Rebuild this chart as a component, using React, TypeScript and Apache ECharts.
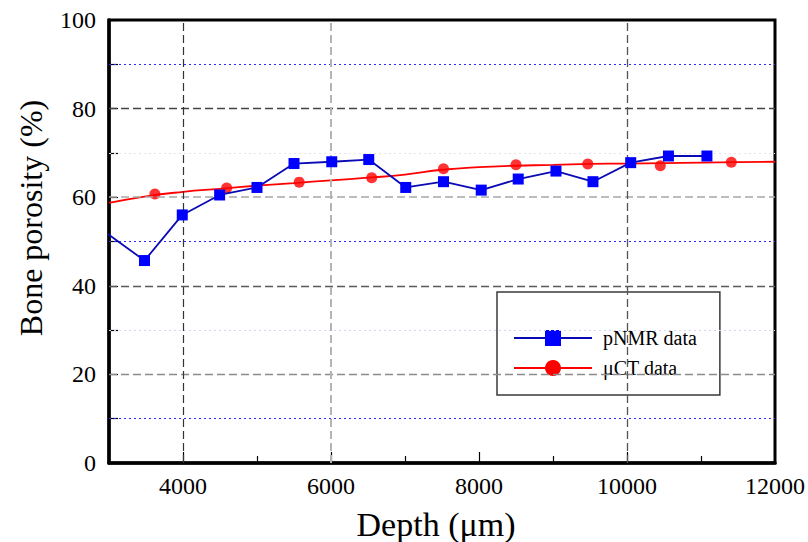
import React, { useEffect, useRef } from "react";
import * as echarts from "echarts";

const depthNMR = [2500, 3480, 3990, 4495, 5000, 5500, 6010, 6510, 7010, 7520, 8030, 8530, 9040, 9540, 10050, 10560, 11080];
const porosityNMR = [57.5, 45.7, 56.0, 60.5, 62.2, 67.6, 68.0, 68.5, 62.2, 63.5, 61.6, 64.1, 65.9, 63.5, 67.8, 69.3, 69.3];

const depthCT = [3620, 4590, 5570, 6550, 7520, 8500, 9470, 10450, 11410];
const porosityCT = [60.7, 62.1, 63.4, 64.4, 66.4, 67.3, 67.5, 67.1, 67.9];

const depthFit = [3000, 3500, 4000, 4500, 5000, 5500, 6000, 6500, 7000, 7500, 8000, 8500, 9000, 9500, 10000, 10500, 11000, 11500, 12000];
const porosityFit = [58.7, 60.2, 61.2, 61.9, 62.6, 63.2, 63.8, 64.4, 65.1, 66.2, 66.8, 67.1, 67.3, 67.5, 67.6, 67.7, 67.8, 67.9, 68.0];

const xLabelValues = [4000, 6000, 8000, 10000, 12000];
const xMajorTicks = [4000, 6000, 8000, 10000];
const xMinorTicks = [5000, 7000, 9000, 11000];
const yLabelValues = [0, 20, 40, 60, 80, 100];

const FONT = "Liberation Serif";

export default function App() {
  const ref = useRef<HTMLDivElement>(null);
  useEffect(() => {
    if (!ref.current) return;
    const chart = echarts.init(ref.current, undefined, { renderer: "svg" });
    const blueDot = { color: "#2a2aff", width: 1.2, type: [2, 3] };
    const hLines = [
      { yAxis: 10, lineStyle: blueDot },
      { yAxis: 20, lineStyle: { color: "#8a8a8a", width: 1.3, type: [8, 4] } },
      { yAxis: 30, lineStyle: { color: "#d4d4f4", width: 1, type: [2, 3] } },
      { yAxis: 40, lineStyle: { color: "#5a5a5a", width: 1.3, type: [8, 4] } },
      { yAxis: 50, lineStyle: blueDot },
      { yAxis: 60, lineStyle: { color: "#a8a8a8", width: 1.5, type: [8, 4] } },
      { yAxis: 70, lineStyle: { color: "#e4e4ec", width: 1, type: [2, 3] } },
      { yAxis: 80, lineStyle: { color: "#444444", width: 1.3, type: [8, 4] } },
      { yAxis: 90, lineStyle: blueDot },
    ];
    const vLines = [
      { xAxis: 4000, lineStyle: { color: "#333333", width: 1.2, type: [8, 4] } },
      { xAxis: 6000, lineStyle: { color: "#b4b4b4", width: 2, type: [8, 4] } },
      { xAxis: 10000, lineStyle: { color: "#555555", width: 1.3, type: [8, 4] } },
    ];
    chart.setOption({
      animation: false,
      backgroundColor: "#ffffff",
      textStyle: { fontFamily: FONT, color: "#000" },
      grid: {
        left: 109,
        right: 33,
        top: 20,
        bottom: 79,
        show: true,
        borderColor: "#000",
        borderWidth: 3,
        backgroundColor: "transparent",
      },
      xAxis: [
        {
          type: "value",
          min: 3000,
          max: 12000,
          interval: 1000,
          axisLine: { show: true, lineStyle: { color: "#000", width: 3.5 } },
          axisTick: { show: true, inside: true, length: 11, customValues: xMajorTicks, lineStyle: { color: "#000", width: 1.2 } },
          axisLabel: {
            customValues: xLabelValues,
            formatter: (v: number) => String(v),
            color: "#000",
            fontFamily: FONT,
            fontSize: 24,
            margin: 11,
          },
          splitLine: { show: false },
        },
        {
          type: "value",
          min: 3000,
          max: 12000,
          interval: 1000,
          position: "bottom",
          axisLine: { show: false },
          axisTick: { show: true, inside: true, length: 7, customValues: xMinorTicks, lineStyle: { color: "#000", width: 1.2 } },
          axisLabel: { show: false },
          splitLine: { show: false },
        },
      ],
      yAxis: {
        type: "value",
        min: 0,
        max: 100,
        interval: 10,
        axisLine: { show: true, lineStyle: { color: "#000", width: 3.5 } },
        axisTick: { show: true, inside: true, length: 9, lineStyle: { color: "#000", width: 1.2 } },
        axisLabel: {
          customValues: yLabelValues,
          formatter: (v: number) => String(v),
          color: "#000",
          fontFamily: FONT,
          fontSize: 24,
          margin: 13,
        },
        splitLine: { show: false },
      },
      legend: {
        left: 497,
        top: 292,
        orient: "vertical",
        padding: [36, 23, 17, 16],
        itemWidth: 78,
        itemHeight: 20,
        itemGap: 10,
        backgroundColor: "#ffffff",
        borderColor: "#3a3a3a",
        borderWidth: 1.5,
        borderRadius: 0,
        textStyle: { color: "#000", fontFamily: FONT, fontSize: 20, padding: [0, 0, 0, 6] },
        data: ["pNMR data", "μCT data"],
      },
      graphic: [
        {
          type: "text",
          x: 31,
          y: 218,
          rotation: Math.PI / 2,
          style: {
            text: "Bone porosity (%)",
            font: `32px ${FONT}`,
            fill: "#000",
            textAlign: "center",
            textVerticalAlign: "middle",
          },
        },
        {
          type: "text",
          x: 436,
          y: 524,
          style: {
            text: "Depth (μm)",
            font: `34px ${FONT}`,
            fill: "#000",
            textAlign: "center",
            textVerticalAlign: "middle",
          },
        },
      ],
      series: [
        {
          name: "gridlines",
          type: "line",
          data: [],
          z: 1,
          silent: true,
          markLine: {
            silent: true,
            symbol: ["none", "none"],
            label: { show: false },
            emphasis: { disabled: true },
            data: [...hLines, ...vLines],
          },
        },
        {
          name: "μCT data",
          type: "line",
          z: 3,
          data: depthFit.map((d, i) => [d, porosityFit[i]]),
          smooth: true,
          symbol: "circle",
          showSymbol: false,
          color: "#ff0000",
          lineStyle: { color: "#ff0000", width: 1.8 },
        },
        {
          name: "μCT points",
          type: "scatter",
          z: 4,
          data: depthCT.map((d, i) => [d, porosityCT[i]]),
          symbol: "circle",
          symbolSize: 11,
          itemStyle: { color: "#ff0000" },
        },
        {
          name: "pNMR data",
          type: "line",
          z: 5,
          data: depthNMR.map((d, i) => [d, porosityNMR[i]]),
          symbol: "rect",
          symbolSize: 11,
          showAllSymbol: true,
          color: "#0000ff",
          itemStyle: { color: "#0000ff" },
          lineStyle: { color: "#0a0ab4", width: 1.8 },
          clip: true,
        },
      ],
    });
    return () => chart.dispose();
  }, []);
  return (
    <div
      ref={ref}
      style={{ position: "fixed", left: 0, top: 0, width: 808, height: 542, background: "#fff" }}
    />
  );
}
